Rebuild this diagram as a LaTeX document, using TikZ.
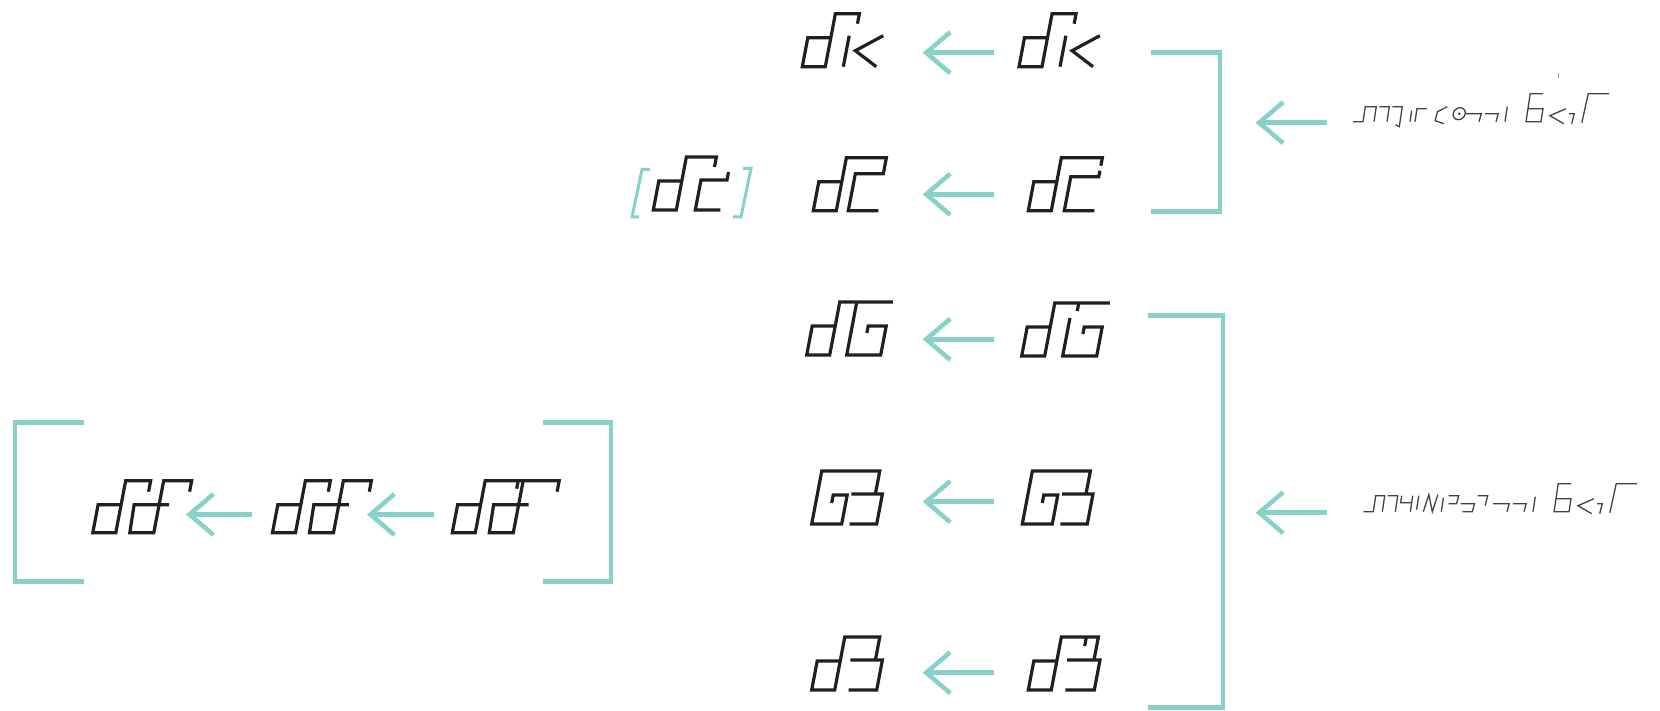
\documentclass[tikz,border=0pt]{standalone}
\usetikzlibrary{arrows.meta}
\definecolor{ink}{HTML}{231F20}
\definecolor{mint}{HTML}{88D0CA}
\definecolor{speck}{HTML}{4FB8EE}
% body of the d-like letter: box with a tall stem
\newcommand\dbody{(23,29)--(0,29)--(0,0)--(23,0)--(23,53)}
\tikzset{
  glyph/.style={draw=ink, line width=3.2pt, line join=miter, xslant=0.19},
  fine/.style={draw=ink!85, line width=1.3pt, xslant=0.15},
  frame/.style={draw=mint, line width=4.7pt},
  smallframe/.style={draw=mint, line width=3pt},
  flow/.style={draw=mint, line width=4.5pt, -{Straight Barb[length=24pt,width=41pt]}},
  pics/dkglyph/.style={code={
    \draw[glyph] \dbody--(47,53)--(47,43);
    \draw[glyph] (41,0)--(41,31);
    \draw[glyph] (75,31)--(50,16)--(74,0);
  }},
  pics/dcglyph/.style={code={
    \draw[glyph] \dbody--(63,53)--(63,37)--(35,37)--(35,0)--(65,0);
  }},
  pics/dcbrokenglyph/.style={code={
    \draw[glyph] \dbody--(64,53)--(64,45);
    \draw[glyph] (64,40)--(64,34)--(36,34)--(36,0)--(66,0);
  }},
  pics/dcsmallglyph/.style={code={
    \draw[glyph] \dbody--(53,53)--(53,43);
    \draw[glyph] (68,38)--(68,30)--(42,30)--(42,0)--(67,0);
  }},
  pics/dgglyph/.style={code={
    \draw[glyph] \dbody--(76,53);
    \draw[glyph] (40,53)--(40,0)--(74,0)--(74,29)--(56,29)--(56,22);
  }},
  pics/dgtickglyph/.style={code={
    \draw[glyph] \dbody--(78,53);
    \draw[glyph] (47,53)--(47,45);
    \draw[glyph] (41,38)--(41,0)--(75,0)--(75,29)--(57,29)--(57,22);
  }},
  pics/gthreeglyph/.style={code={
    \draw[glyph] (16,21)--(16,29)--(30,29)--(30,0)--(0,0)--(0,53)--(58,53)--(58,30);
    \draw[glyph] (34,30)--(65,30)--(65,0)--(38,0);
  }},
  pics/dthreeglyph/.style={code={
    \draw[glyph] \dbody--(58,53)--(58,30);
    \draw[glyph] (33,30)--(65,30)--(65,0)--(37,0);
  }},
  pics/dthreetickglyph/.style={code={
    \draw[glyph] \dbody--(60,53)--(60,30);
    \draw[glyph] (48,53)--(48,44);
    \draw[glyph] (33,30)--(66,30)--(66,0)--(37,0);
  }},
  pics/ddglyph/.style={code={
    \draw[glyph] (23,28)--(0,28)--(0,0)--(23,0)--(23,52)--(48,52)--(48,41);
    \draw[glyph] (71,28)--(36,28)--(37,0)--(61,0)--(61,52)--(89,52)--(89,41);
  }},
  pics/ddlongglyph/.style={code={
    \draw[glyph] (23,28)--(0,28)--(0,0)--(23,0)--(23,52)--(97,52)--(97,41);
    \draw[glyph] (56,52)--(56,44);
    \draw[glyph] (71,28)--(36,28)--(37,0)--(61,0)--(61,52);
  }},
  pics/labeltail/.style={code={
    \draw[fine] (0,8)--(16,8)--(15,0);
    \draw[fine] (20,8)--(33,8)--(32,0);
    \draw[fine] (41,0)--(41,15);
    \draw[fine] (75,28)--(62,28)--(62,0)--(77,0)--(77,13)--(62,13);
    \draw[fine] (100,13)--(85,6)--(100,-2);
    \draw[fine] (104,8)--(109,8)--(108,-2);
    \draw[fine] (118,-1)--(120,28)--(141,28);
  }},
  pics/labelone/.style={code={
    \draw[fine] (0,0)--(10,0)--(10,15)--(21,15)--(21,0);
    \draw[fine] (24,15)--(34,15)--(34,0);
    \draw[fine] (37,15)--(47,15)--(47,-5)--(43,-3);
    \draw[fine] (57,0)--(57,11);
    \draw[fine] (62,0)--(62,13)--(72,13);
    \draw[fine] (92,15)--(83,10)--(82,1)--(91,-2);
    \draw[fine] (105,8) circle[radius=6];
    \fill[ink!85] (106.2,8) circle[radius=1.4];
    \pic at (111,0) {labeltail};
  }},
  pics/labeltwo/.style={code={
    \draw[fine] (0,0)--(10,0)--(10,16)--(19,16)--(19,0);
    \draw[fine] (22,16)--(32,16)--(32,0);
    \draw[fine] (36,16)--(36,9)--(47,9);
    \draw[fine] (47,16)--(47,0);
    \draw[fine] (53,16)--(53,2);
    \draw[fine] (60,0)--(63,17)--(69,0)--(72,17);
    \draw[fine] (78,0)--(78,14);
    \draw[fine] (83,16)--(93,16)--(92,8)--(84,8);
    \draw[fine] (96,8)--(110,8)--(109,0)--(99,0);
    \draw[fine] (112,16)--(122,16)--(121,6);
    \pic at (128.7,0) {labeltail};
  }},
}
\begin{document}
\begin{tikzpicture}[x=1pt,y=1pt]
\useasboundingbox (0,0) rectangle (1660,710);
% letters, left and right of each arrow
\pic (r1a) at (802.3,643.3) {dkglyph};
\pic (r1b) at (1019,643.3) {dkglyph};
\pic (r2a) at (813.3,499.3) {dcglyph};
\pic (r2b) at (1028.3,499.3) {dcbrokenglyph};
\pic (r2c) at (653.3,500) {dcsmallglyph};
\pic (r3a) at (806.7,355) {dgglyph};
\pic (r3b) at (1021.7,354) {dgtickglyph};
\pic (r4a) at (811.7,186) {gthreeglyph};
\pic (r4b) at (1022.3,186) {gthreeglyph};
\pic (r5a) at (811.7,20) {dthreeglyph};
\pic (r5b) at (1028.3,20) {dthreetickglyph};
\pic (lg1) at (92.8,177.3) {ddglyph};
\pic (lg2) at (272.5,177.3) {ddglyph};
\pic (lg3) at (452.3,177.3) {ddlongglyph};
% small brackets round the variant
\draw[smallframe] (650,540.5)--(642,540.5)--(632,493)--(639,493);
\draw[smallframe] (743,541.5)--(751,541.5)--(741,493)--(733,493);
% middle arrows
\foreach \y [count=\i] in {657.3,515.7,370.7,208.3,37.3} {
  \coordinate (m\i s) at (994,\y);
  \coordinate (m\i e) at (922.7,\y);
  \draw[flow] (m\i s) -- (m\i e);
}
% left group
\draw[frame] (83.6,287.6)--(15,287.6)--(15,128.8)--(83.6,128.8);
\draw[frame] (543,287.6)--(610.9,287.6)--(610.9,128.8)--(543,128.8);
\coordinate (l1s) at (252,195.5);
\coordinate (l1e) at (186,195.5);
\coordinate (l2s) at (434,195.5);
\coordinate (l2e) at (367,195.5);
\draw[flow] (l1s) -- (l1e);
\draw[flow] (l2s) -- (l2e);
% right brackets and labels
\draw[frame] (1151,657.3)--(1220,657.3)--(1220,498.3)--(1151,498.3);
\draw[frame] (1147.7,394.3)--(1223,394.3)--(1223,2.3)--(1147.7,2.3);
\coordinate (q1s) at (1327,587.3);
\coordinate (q1e) at (1255.7,587.3);
\coordinate (q2s) at (1327,197.3);
\coordinate (q2e) at (1255.7,197.3);
\draw[flow] (q1s) -- (q1e);
\draw[flow] (q2s) -- (q2e);
\pic (lab1) at (1353,588.3) {labelone};
\pic (lab2) at (1363.3,198.3) {labeltwo};
\draw[speck, line width=1pt] (1558,637) -- (1558,632);
\end{tikzpicture}
\end{document}
